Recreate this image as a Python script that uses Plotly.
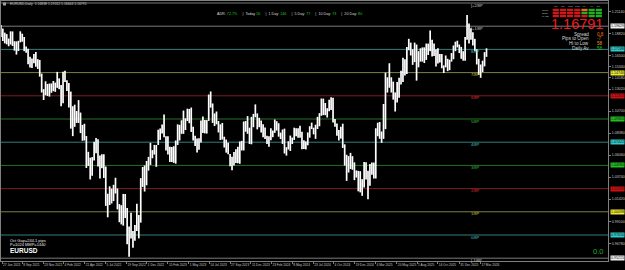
import plotly.graph_objects as go
import pandas as pd

# ---------------- data ----------------
first_week = "2021-06-21"

high_2021 = [1.1975, 1.1938, 1.1895, 1.1880, 1.1833, 1.1909, 1.1908, 1.1805, 1.1803, 1.1809,
             1.1909, 1.1884, 1.1849, 1.1750, 1.1725, 1.1641, 1.1624, 1.1669, 1.1692, 1.1616,
             1.1608, 1.1464, 1.1300, 1.1383, 1.1355, 1.1360, 1.1360, 1.1386]
low_2021 = [1.1848, 1.1807, 1.1782, 1.1772, 1.1752, 1.1770, 1.1755, 1.1705, 1.1664, 1.1702,
            1.1793, 1.1800, 1.1700, 1.1683, 1.1563, 1.1529, 1.1524, 1.1572, 1.1535, 1.1513,
            1.1432, 1.1265, 1.1186, 1.1236, 1.1228, 1.1222, 1.1262, 1.1279]

high_2022 = [1.1369, 1.1482, 1.1414, 1.1344, 1.1483, 1.1495, 1.1395, 1.1366, 1.1275,
             1.1121, 1.1137, 1.1070, 1.1185, 1.1054, 1.0924, 1.0936, 1.0807,
             1.0641, 1.0579, 1.0586, 1.0748, 1.0787, 1.0774, 1.0601, 1.0615, 1.0615,
             1.0486, 1.0200, 1.0278, 1.0254, 1.0294, 1.0368, 1.0255, 1.0091, 1.0079,
             1.0198, 1.0197, 1.0051, 0.9854, 0.9999, 0.9809, 0.9870, 1.0094, 0.9976,
             1.0364, 1.0481, 1.0497, 1.0545, 1.0588, 1.0736, 1.0659, 1.0714]
low_2022 = [1.1272, 1.1314, 1.1300, 1.1121, 1.1152, 1.1375, 1.1280, 1.1106, 1.0885,
            1.0806, 1.0904, 1.0945, 1.0945, 1.0838, 1.0757, 1.0760, 1.0471,
            1.0492, 1.0350, 1.0389, 1.0549, 1.0627, 1.0486, 1.0359, 1.0469, 1.0366,
            1.0072, 0.9952, 1.0081, 1.0097, 1.0123, 1.0202, 1.0035, 0.9900, 0.9877,
            0.9864, 0.9944, 0.9667, 0.9536, 0.9730, 0.9632, 0.9705, 0.9808, 0.9730,
            0.9896, 1.0271, 1.0223, 1.0289, 1.0443, 1.0503, 1.0573, 1.0612]

high_2023 = [1.0713, 1.0874, 1.0887, 1.0929, 1.1033, 1.0805, 1.0805, 1.0695, 1.0692,
             1.0700, 1.0760, 1.0930, 1.0925, 1.0973, 1.1075, 1.0994, 1.1095,
             1.1092, 1.1107, 1.0905, 1.0810, 1.0780, 1.0785, 1.0971, 1.1012, 1.0976,
             1.0975, 1.1244, 1.1276, 1.1150, 1.1045, 1.1065, 1.0965, 1.0930, 1.0945,
             1.0800, 1.0770, 1.0737, 1.0618, 1.0590, 1.0640, 1.0668, 1.0695, 1.0750,
             1.0756, 1.0960, 1.0965, 1.1017, 1.0895, 1.1009, 1.1040, 1.1140]
low_2023 = [1.0483, 1.0713, 1.0766, 1.0835, 1.0794, 1.0655, 1.0613, 1.0533, 1.0533,
            1.0525, 1.0516, 1.0713, 1.0760, 1.0830, 1.0830, 1.0870, 1.0965,
            1.0942, 1.0850, 1.0760, 1.0702, 1.0635, 1.0663, 1.0740, 1.0840, 1.0835,
            1.0833, 1.0966, 1.1106, 1.0945, 1.0912, 1.0930, 1.0845, 1.0765, 1.0770,
            1.0686, 1.0632, 1.0615, 1.0488, 1.0448, 1.0496, 1.0523, 1.0520, 1.0515,
            1.0655, 1.0655, 1.0852, 1.0830, 1.0723, 1.0720, 1.0900, 1.1005]

high_2024 = [1.1045, 1.0999, 1.0970, 1.0932, 1.0897, 1.0810, 1.0805, 1.0888, 1.0865,
             1.0981, 1.0963, 1.0942, 1.0843, 1.0876, 1.0885, 1.0690, 1.0752, 1.0812,
             1.0790, 1.0895, 1.0888, 1.0890, 1.0916, 1.0852, 1.0762, 1.0750,
             1.0845, 1.0910, 1.0948, 1.0895, 1.0926, 1.1009, 1.1048, 1.1202, 1.1201,
             1.1155, 1.1100, 1.1189, 1.1214, 1.1209, 1.0985, 1.0940, 1.0870, 1.0905,
             1.0937, 1.0720, 1.0610, 1.0596, 1.0630, 1.0595, 1.0530, 1.0445, 1.0440]
low_2024 = [1.0877, 1.0900, 1.0844, 1.0795, 1.0777, 1.0722, 1.0695, 1.0762, 1.0795,
            1.0840, 1.0865, 1.0800, 1.0775, 1.0724, 1.0623, 1.0601, 1.0665, 1.0650,
            1.0723, 1.0766, 1.0805, 1.0789, 1.0790, 1.0668, 1.0670, 1.0666,
            1.0710, 1.0790, 1.0880, 1.0825, 1.0777, 1.0881, 1.0910, 1.1020, 1.1027,
            1.1026, 1.1002, 1.1068, 1.1082, 1.0950, 1.0906, 1.0811, 1.0761, 1.0780,
            1.0682, 1.0496, 1.0335, 1.0423, 1.0460, 1.0452, 1.0343, 1.0370, 1.0225]

high_2025 = [1.0437, 1.0353, 1.0533, 1.0532, 1.0442, 1.0513, 1.0528, 1.0528,
             1.0889, 1.0947, 1.0955, 1.0855, 1.1144, 1.1474, 1.1425, 1.1573, 1.1425,
             1.1380, 1.1266, 1.1375, 1.1420, 1.1495, 1.1631, 1.1615, 1.1745, 1.1830,
             1.1790, 1.1720, 1.1790, 1.1770, 1.1700, 1.1730, 1.1740, 1.1740,
             1.1780, 1.1780, 1.1918, 1.1820, 1.1780, 1.1720, 1.1730, 1.1670, 1.1670,
             1.1550, 1.1655, 1.1620, 1.1610, 1.1680, 1.1760, 1.1800, 1.1810, 1.1770]
low_2025 = [1.0214, 1.0178, 1.0266, 1.0350, 1.0141, 1.0285, 1.0400, 1.0360,
            1.0360, 1.0805, 1.0778, 1.0735, 1.0777, 1.0880, 1.1265, 1.1315, 1.1265,
            1.1190, 1.1065, 1.1160, 1.1210, 1.1350, 1.1375, 1.1445, 1.1460, 1.1710,
            1.1655, 1.1556, 1.1585, 1.1390, 1.1530, 1.1590, 1.1590, 1.1575,
            1.1608, 1.1660, 1.1700, 1.1645, 1.1650, 1.1540, 1.1570, 1.1580, 1.1520,
            1.1470, 1.1530, 1.1490, 1.1500, 1.1590, 1.1615, 1.1700, 1.1740, 1.1680]

high_2026 = [1.1745, 1.1700, 1.1850, 1.2080, 1.1990, 1.1940, 1.1900, 1.1830,
             1.1720, 1.1620, 1.1560, 1.1600, 1.1690, 1.1730]
low_2026 = [1.1620, 1.1600, 1.1600, 1.1820, 1.1780, 1.1820, 1.1760, 1.1700,
            1.1560, 1.1450, 1.1420, 1.1480, 1.1540, 1.1640]

murrey_names = ["[+2/8P", "[+1/8P", "8/8P", "7/8P", "6/8P", "5/8P", "4/8P",
                "3/8P", "2/8P", "1/8P", "0/8P", "[-1/8P"]
murrey_levels = [1.22070, 1.19629, 1.17188, 1.14746, 1.12305, 1.09863, 1.07422,
                 1.04980, 1.02539, 1.00098, 0.97656, 0.95215]
murrey_kind = ["w", "w", "c", "y", "r", "g", "c", "g", "r", "y", "c", "w"]

date_tick_vals = ["2021-06-27", "2021-09-08", "2021-11-23", "2022-02-04", "2022-04-21",
                  "2022-07-05", "2022-09-19", "2022-12-01", "2023-02-15", "2023-05-01",
                  "2023-07-14", "2023-09-27", "2023-12-11", "2024-02-23", "2024-05-08",
                  "2024-07-23", "2024-10-04", "2024-12-19", "2025-03-04", "2025-05-20",
                  "2025-08-01", "2025-10-14", "2025-12-31", "2026-03-17"]
date_tick_text = ["27 Jun 2021", "8 Sep 2021", "23 Nov 2021", "4 Feb 2022", "21 Apr 2022",
                  "5 Jul 2022", "19 Sep 2022", "1 Dec 2022", "15 Feb 2023", "1 May 2023",
                  "14 Jul 2023", "27 Sep 2023", "11 Dec 2023", "23 Feb 2024", "8 May 2024",
                  "23 Jul 2024", "4 Oct 2024", "19 Dec 2024", "4 Mar 2025", "20 May 2025",
                  "1 Aug 2025", "14 Oct 2025", "31 Dec 2025", "17 Mar 2026"]

price_ticks = [0.95620, 0.96780, 0.97940, 0.99100, 1.00260, 1.01420, 1.02580, 1.03740,
               1.04900, 1.06060, 1.07220, 1.08380, 1.09540, 1.10700, 1.11860, 1.13020,
               1.14180, 1.15340, 1.16500, 1.17660, 1.18820, 1.19980, 1.21140]

symbol = "EURUSD"
ohlc_title = "EURUSD,Daily  1.16838 1.17012 1.16644 1.16791"
last_price = "1.16791"
adr_items = [("ADR:", "72.7%"), ("Today", "56"), ("1 Day:", "146"), ("5 Day:", "77"),
             ("10 Day:", "73"), ("20 Day:", "80")]
info_labels = ["Spread", "Pips to Open", "Hi to Low", "Daily Av"]
info_values = ["0.8", "-7", "58", "58"]
info_colors = ["#f07a20", "#f07a20", "#e0a020", "#20c020"]
tf_labels = ["M1", "M5", "M15", "M30", "H1", "H4", "D1"]
tf_colors = [["#d01818"] * 3, ["#d01818"] * 3, ["#d01818"] * 3, ["#d01818"] * 3,
             ["#e07020", "#20b020", "#d01818"], ["#20b020"] * 3, ["#20b020"] * 3]
bottom_lines = ["Oct Gap=244.1 pips", "P=1024 MMP=1440"]

high = high_2021 + high_2022 + high_2023 + high_2024 + high_2025 + high_2026
low = low_2021 + low_2022 + low_2023 + low_2024 + low_2025 + low_2026
week_mid = pd.date_range(first_week, periods=len(high), freq="7D") + pd.Timedelta(days=2)

# ---------------- layout helpers ----------------
W, H = 625, 270
PL, PR, PT, PB = 0, 609, 1, 261      # plot area in px
px_per_day = 0.2784
x_anchor_px = 1.0
x0 = pd.Timestamp("2021-06-27") - pd.Timedelta(days=(x_anchor_px - PL) / px_per_day)
x1 = pd.Timestamp("2021-06-27") + pd.Timedelta(days=(PR - x_anchor_px) / px_per_day)
ppx = 0.02441406 / 23.2
y_top = 1.22070 + (3 - PT) * ppx
y_bot = 1.22070 - (PB - 3) * ppx


def fx(x):
    return (x - PL) / (PR - PL)


def fy(y):
    return 1 - (y - PT) / (PB - PT)


# keep axis ticks clear of the coloured level boxes
shown_ticks = [t for t in price_ticks
               if min(abs(t - m) for m in murrey_levels[1:]) / ppx > 5.0]

line_col = {"w": "#7a7a7a", "c": "#357f7f", "y": "#7f7f42", "r": "#7f1c1c", "g": "#267026"}
text_col = {"w": "#c8c8c8", "c": "#40c8c8", "y": "#c8c840", "r": "#e03030", "g": "#30c030"}
box_col = {"w": "#f0f0f0", "c": "#30c8c8", "y": "#e8e830", "r": "#d01010", "g": "#20c020"}

FONT = "Liberation Sans, Arial, sans-serif"

fig = go.Figure()

# bars: one vertical high-low segment per week
xs, ys = [], []
for d, h, l in zip(week_mid, high, low):
    xs += [d, d, None]
    ys += [l, h, None]
fig.add_trace(go.Scatter(x=xs, y=ys, mode="lines", line=dict(color="#ffffff", width=1.7),
                         hoverinfo="skip", showlegend=False))

shapes = []
annotations = []

# Murrey lines
for name, lvl, kind in zip(murrey_names, murrey_levels, murrey_kind):
    shapes.append(dict(type="line", xref="paper", yref="y", x0=0, x1=1, y0=lvl, y1=lvl,
                       line=dict(color=line_col[kind], width=1), layer="below"))
    annotations.append(dict(x=fx(470), y=lvl, xref="paper", yref="y", text=name,
                            showarrow=False, xanchor="left", yanchor="middle", yshift=-2,
                            font=dict(size=4, color=text_col[kind], family=FONT)))
    if name != "[+2/8P":
        annotations.append(dict(x=1, y=lvl, xref="paper", yref="y", text=f"{lvl:.5f}",
                                showarrow=False, xanchor="left", yanchor="middle", xshift=2,
                                bgcolor=box_col[kind], borderpad=0,
                                font=dict(size=3.6, color="#101010", family=FONT)))

# title
annotations.append(dict(x=fx(7), y=fy(4), xref="paper", yref="paper", text=ohlc_title,
                        showarrow=False, xanchor="left", yanchor="middle",
                        font=dict(size=3.4, color="#c8c8c8", family=FONT)))
shapes.append(dict(type="rect", xref="paper", yref="paper", x0=fx(2), x1=fx(5),
                   y0=fy(5.5), y1=fy(2.5), fillcolor="#a0a0a0", line=dict(width=0)))

# ADR line
adr_txt = "     |  ".join(f"{k} <span style='color:#20c020'>{v}</span>" for k, v in adr_items)
annotations.append(dict(x=fx(215), y=fy(13.5), xref="paper", yref="paper", text=adr_txt,
                        showarrow=False, xanchor="left", yanchor="middle",
                        font=dict(size=3.7, color="#d8d8d8", family=FONT)))

# timeframe grid
gx0, cw, gap = 553.5, 6.2, 1.0
for i, (lab, cols) in enumerate(zip(tf_labels, tf_colors)):
    cx = gx0 + i * (cw + gap)
    annotations.append(dict(x=fx(cx + cw / 2), y=fy(6.8), xref="paper", yref="paper", text=lab,
                            showarrow=False, xanchor="center", yanchor="middle",
                            font=dict(size=2.5, color="#b0b0b0", family=FONT)))
    for r, c in enumerate(cols):
        ry = 8.8 + r * 3.0
        shapes.append(dict(type="rect", xref="paper", yref="paper", x0=fx(cx), x1=fx(cx + cw),
                           y0=fy(ry + 2.4), y1=fy(ry), fillcolor=c, line=dict(width=0)))
for r, lab in enumerate(["Trend", "Stoch", "MACD"]):
    annotations.append(dict(x=fx(552), y=fy(10.0 + r * 3.0), xref="paper", yref="paper",
                            text=lab, showarrow=False, xanchor="right", yanchor="middle",
                            font=dict(size=2.3, color="#c0c0c0", family=FONT)))

# big price
annotations.append(dict(x=fx(578), y=fy(23.8), xref="paper", yref="paper", text=last_price,
                        showarrow=False, xanchor="center", yanchor="middle",
                        font=dict(size=14.5, color="#f01c1c", family=FONT)))

# info rows
for i, (lab, val, col) in enumerate(zip(info_labels, info_values, info_colors)):
    yy = 34.0 + i * 4.8
    annotations.append(dict(x=fx(592), y=fy(yy), xref="paper", yref="paper", text=lab,
                            showarrow=False, xanchor="right", yanchor="middle",
                            font=dict(size=4.6, color="#d8d8d8", family=FONT)))
    annotations.append(dict(x=fx(596), y=fy(yy), xref="paper", yref="paper", text=val,
                            showarrow=False, xanchor="left", yanchor="middle",
                            font=dict(size=4.6, color=col, family=FONT)))

# bottom-left info
for i, t in enumerate(bottom_lines):
    annotations.append(dict(x=fx(7), y=fy(240.5 + i * 4.3), xref="paper", yref="paper", text=t,
                            showarrow=False, xanchor="left", yanchor="middle",
                            font=dict(size=4, color="#e8e8e8", family=FONT)))
annotations.append(dict(x=fx(7), y=fy(250.2), xref="paper", yref="paper", text=f"<b>{symbol}</b>",
                        showarrow=False, xanchor="left", yanchor="middle",
                        font=dict(size=6.5, color="#ffffff", family=FONT)))

# 0.0 counter
annotations.append(dict(x=fx(599), y=fy(251), xref="paper", yref="paper", text="0.0",
                        showarrow=False, xanchor="center", yanchor="middle",
                        font=dict(size=7.5, color="#20b020", family=FONT)))

fig.update_layout(
    width=W, height=H,
    margin=dict(l=PL, r=W - PR, t=PT, b=H - PB, pad=0),
    paper_bgcolor="#000000", plot_bgcolor="#000000",
    showlegend=False,
    shapes=shapes, annotations=annotations,
    xaxis=dict(type="date", range=[x0, x1], tickvals=date_tick_vals, ticktext=date_tick_text,
               tickangle=0, ticklabelposition="outside right", ticks="outside", ticklen=2,
               tickcolor="#808080", showgrid=False, zeroline=False,
               showline=True, linecolor="#808080", linewidth=1, mirror=True,
               tickfont=dict(size=3.2, color="#c8c8c8", family=FONT)),
    yaxis=dict(side="right", range=[y_bot, y_top], tickvals=shown_ticks,
               ticktext=[f"{v:.5f}" for v in shown_ticks], ticks="outside", ticklen=2,
               tickcolor="#808080", showgrid=False, zeroline=False,
               showline=True, linecolor="#808080", linewidth=1, mirror=True,
               tickfont=dict(size=3.6, color="#c8c8c8", family=FONT)),
)

fig.write_html("out.html")
